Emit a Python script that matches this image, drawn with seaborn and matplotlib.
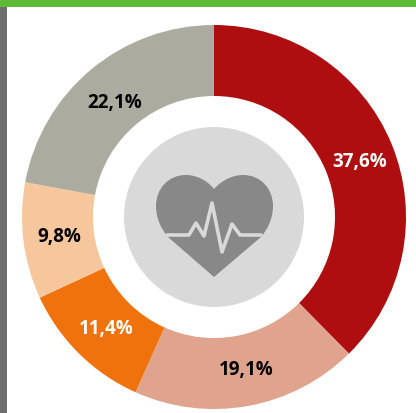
import matplotlib
matplotlib.use("Agg")
import matplotlib.pyplot as plt
from matplotlib.patches import Circle, PathPatch, Rectangle
from matplotlib.path import Path
import seaborn as sns

shares = [37.6, 19.1, 11.4, 9.8, 22.1]
slice_colors = ['#ae0e10', '#e0a48e', '#ef720c', '#f6c69c', '#abab9f']
label_colors = ['white', 'black', 'white', 'black', 'black']
# small hand nudges of the labels, in pixels
label_nudge = [(2, -3), (5, 1), (1, 0), (0, 0), (0, -5)]

W, H = 416, 414
CX, CY = 214, H - 218


def flip(pts):
    # picture pixels -> axes units (y up)
    return [(x, H - y) for x, y in pts]


sns.set_theme(style='white')
plt.rcParams['font.family'] = ['Open Sans', 'DejaVu Sans']

fig = plt.figure(figsize=(W / 100, H / 100), dpi=100)
ax = fig.add_axes([0, 0, 1, 1])

wedges, texts, autotexts = ax.pie(
    shares,
    colors=sns.color_palette(slice_colors),
    startangle=90,
    counterclock=False,
    center=(CX, CY),
    radius=192,
    wedgeprops={'width': 71, 'linewidth': 0},
    autopct=lambda p: f"{p:.1f}%".replace('.', ','),
    pctdistance=0.81,
    textprops={'fontsize': 13.5, 'fontweight': 'bold'},
)
for t, c, (dx, dy) in zip(autotexts, label_colors, label_nudge):
    t.set_color(c)
    x, y = t.get_position()
    t.set_position((x + dx, y + dy))

# inner disc and heart icon
ax.add_patch(Circle((CX, CY), 90, color='#d9d9d9', lw=0))

heart_pts = flip([
    (214, 190),
    (207, 181), (196, 176), (186, 176),
    (168, 176), (156, 190), (156, 207),
    (156, 219), (161, 230), (168, 238),
    (214, 278),
    (261, 238),
    (268, 230), (273, 219), (273, 207),
    (273, 190), (261, 176), (243, 176),
    (233, 176), (222, 181), (214, 190),
])
heart_codes = [Path.MOVETO] + [Path.CURVE4] * 9 + [Path.LINETO, Path.LINETO] + [Path.CURVE4] * 9
ax.add_patch(PathPatch(Path(heart_pts, heart_codes), facecolor='#888888', lw=0))

pulse_pts = flip([(167, 236), (189, 236), (196, 224), (204, 237), (212, 204),
                  (222, 253), (232, 225), (240, 236), (261, 236)])
ax.plot(*zip(*pulse_pts), color='#d9d9d9', lw=2.6, solid_joinstyle='round', solid_capstyle='round')

# page furniture: green strip on top, grey strip on the left
ax.add_patch(Rectangle((0, H - 8), W, 8, color='#5fbb37', lw=0))
ax.add_patch(Rectangle((0, 0), 7, H - 8, color='#6d6d6d', lw=0))

ax.set_xlim(0, W)
ax.set_ylim(0, H)
ax.set_aspect('equal')
ax.axis('off')

fig.savefig('out.png', dpi=100, facecolor='white')
